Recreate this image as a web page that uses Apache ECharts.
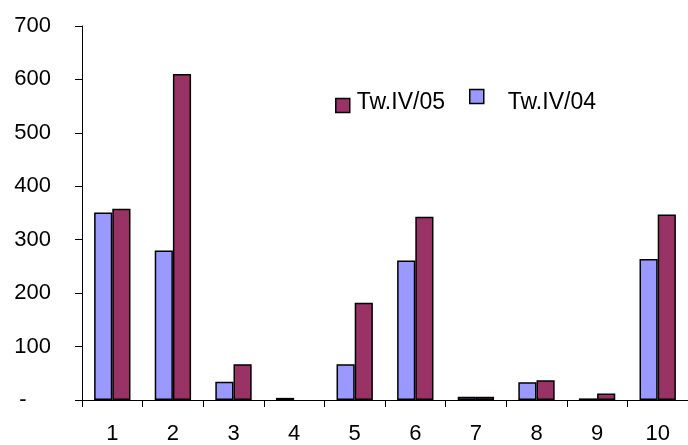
<!DOCTYPE html>
<html><head><meta charset="utf-8">
<script src="https://cdn.jsdelivr.net/npm/echarts@6/dist/echarts.min.js"></script>
<style>html,body{margin:0;padding:0;background:#fff}#c{width:688px;height:445px}</style>
</head><body><div id="c"></div>
<script>
var categories = ['1','2','3','4','5','6','7','8','9','10'];
var seriesNames = ['Tw.IV/05','Tw.IV/04'];
var valuesIV04 = [351, 280, 34, 4, 67, 261, 6, 33, 3, 264];
var valuesIV05 = [358, 610, 67, 0, 182, 343, 6, 37, 12, 347];
var yTicks = [0, 100, 200, 300, 400, 500, 600, 700];

function toData(arr){
  return arr.map(function(v){ return v === 0 ? {value: v, itemStyle: {borderWidth: 0}} : v; });
}

var chart = echarts.init(document.getElementById('c'), null, {renderer:'canvas'});
var font = '"Liberation Sans", Arial, sans-serif';
chart.setOption({
  animation: false,
  grid: {left: 82, top: 26, width: 618, height: 375, containLabel: false},
  legend: [
    {data: [seriesNames[0]], left: 335, top: 91, itemWidth: 14, itemHeight: 14, padding: 0, icon: 'rect',
     formatter: '{name}\n ',
     textStyle: {fontFamily: font, fontSize: 23, color: '#000', lineHeight: 6, padding: [0,0,0,2]},
     itemStyle: {borderColor:'#000', borderWidth:1.5}},
    {data: [seriesNames[1]], left: 469, top: 79, itemWidth: 14, itemHeight: 14, padding: 0, icon: 'rect',
     formatter: ' \n{name}',
     textStyle: {fontFamily: font, fontSize: 23, color: '#000', lineHeight: 12, padding: [0,0,0,19]},
     itemStyle: {borderColor:'#000', borderWidth:1.5}}
  ],
  xAxis: {
    type: 'category', data: categories,
    axisLine: {lineStyle: {color: '#000', width: 1}},
    axisTick: {show: true, alignWithLabel: false, length: 7, lineStyle: {color:'#000'}},
    axisLabel: {fontFamily: font, fontSize: 22, color: '#000', margin: 23}
  },
  yAxis: {
    type: 'value', min: 0, max: 700, interval: 100,
    splitLine: {show: false},
    axisLine: {show: true, lineStyle: {color: '#000', width: 1}},
    axisTick: {show: true, length: 7, lineStyle: {color:'#000'}},
    axisLabel: {fontFamily: font, fontSize: 22, color: '#000', margin: 31,
      formatter: function(v){ return v === 0 ? '-    ' : String(v); }}
  },
  series: [
    {name: seriesNames[1], type: 'bar', data: toData(valuesIV04), barGap: '0%', barCategoryGap: '40%',
     itemStyle: {color: '#9999FF', borderColor: '#000', borderWidth: 1.5}},
    {name: seriesNames[0], type: 'bar', data: toData(valuesIV05), barGap: '0%', barCategoryGap: '40%',
     itemStyle: {color: '#993366', borderColor: '#000', borderWidth: 1.5}}
  ]
});
</script></body></html>
